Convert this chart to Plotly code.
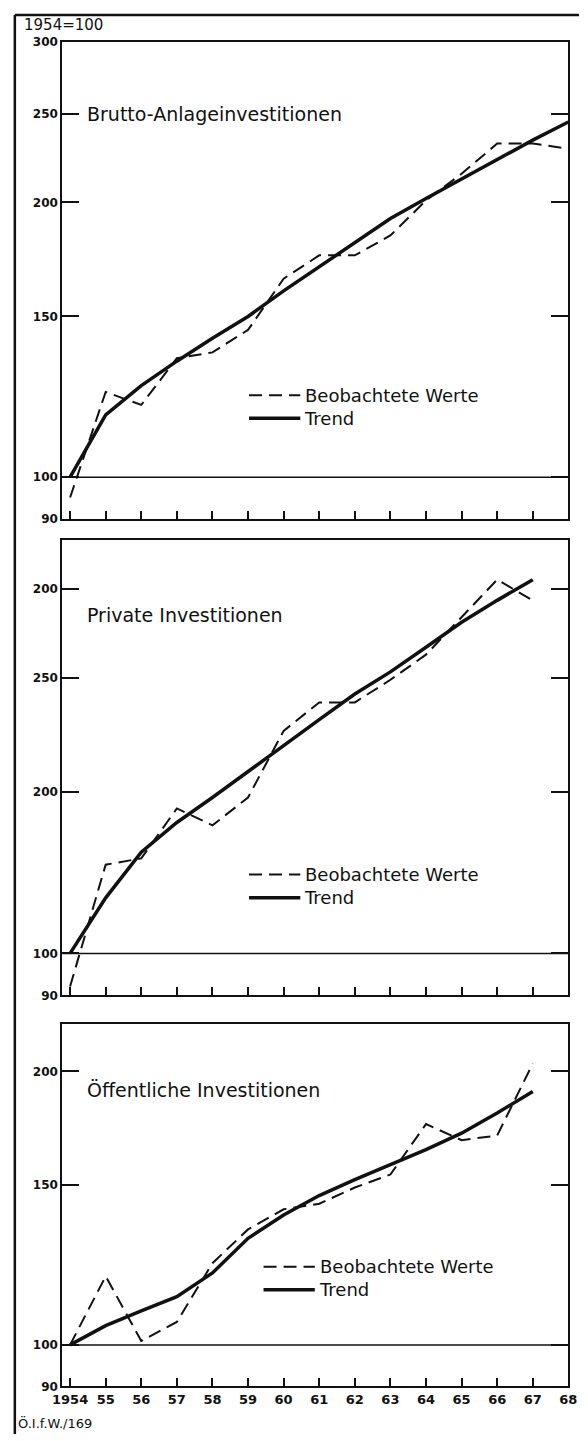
import math
import plotly.graph_objects as go

# ---------------- data (index 1954 = 100) ----------------
years_b = [1954, 1955, 1956, 1957, 1958, 1959, 1960, 1961, 1962, 1963, 1964, 1965, 1966, 1967, 1968]
brutto_obs = [95, 124, 120, 135, 137, 145, 165, 175, 175, 184, 201, 215, 232, 232, 229]
brutto_trend = [100, 117, 126, 134, 142, 150, 160, 170, 181, 192, 202, 212, 223, 234, 245]

years_pp = [1954, 1955, 1956, 1957, 1958, 1959, 1960, 1961, 1962, 1963, 1964, 1965, 1966, 1967]
private_obs = [92, 125, 127, 144, 138, 148, 175, 188, 188, 199, 212, 233, 256, 243]
private_trend = [100, 115, 129, 139, 148, 158, 169, 180, 192, 203, 216, 230, 243, 256]

public_obs = [100, 119, 101, 106, 123, 134, 141, 143, 149, 154, 175, 168, 170, 204]
public_trend = [100, 105, 109, 113, 120, 131, 139, 146, 152, 158, 164, 171, 180, 190]

x_tickvals = [1954, 1955, 1956, 1957, 1958, 1959, 1960, 1961, 1962, 1963, 1964, 1965, 1966, 1967, 1968]
x_ticktext = ["1954", "55", "56", "57", "58", "59", "60", "61", "62", "63", "64", "65", "66", "67", "68"]

y1_vals = [90, 100, 150, 200, 250, 300]
y1_text = ["90", "100", "150", "200", "250", "300"]
y2_vals = [90, 100, 150, 200, 250]
y2_text = ["90", "100", "200", "250", "200"]
y3_vals = [90, 100, 150, 200]
y3_text = ["90", "100", "150", "200"]

titles = ["Brutto-Anlageinvestitionen", "Private Investitionen", "Öffentliche Investitionen"]
title_levels = [250, 234, 191]
obs_name = "Beobachtete Werte"
trend_name = "Trend"

# ---------------- layout geometry ----------------
W, H = 588, 1441


def py(p):
    return 1 - p / H


X0, X1 = 54 / W, 577 / W
panels = [
    dict(dom=[py(517), py(35)], rng=[90, 300], vals=y1_vals, text=y1_text),
    dict(dom=[py(998), py(538)], rng=[90, 283], vals=y2_vals, text=y2_text),
    dict(dom=[py(1393), py(1027)], rng=[90, 225.5], vals=y3_vals, text=y3_text),
]

FONT = "DejaVu Sans"
BLACK = "#111111"
DASH = "13px,7px"

fig = go.Figure()

series = [
    (years_b, brutto_obs, brutto_trend),
    (years_pp, private_obs, private_trend),
    (years_pp, public_obs, public_trend),
]

for i, (yrs, obs, trend) in enumerate(series):
    xa = "x" if i == 0 else f"x{i+1}"
    ya = "y" if i == 0 else f"y{i+1}"
    fig.add_trace(go.Scatter(
        x=yrs, y=obs, mode="lines", name=obs_name,
        line=dict(color=BLACK, width=2, dash=DASH),
        xaxis=xa, yaxis=ya, showlegend=False))
    fig.add_trace(go.Scatter(
        x=yrs, y=trend, mode="lines", name=trend_name,
        line=dict(color=BLACK, width=3.5),
        xaxis=xa, yaxis=ya, showlegend=False))

layout = dict(
    width=W, height=H,
    margin=dict(l=0, r=0, t=0, b=0),
    paper_bgcolor="white", plot_bgcolor="white",
    font=dict(family=FONT, color=BLACK),
    showlegend=False,
)

for i, p in enumerate(panels):
    xk = "xaxis" if i == 0 else f"xaxis{i+1}"
    yk = "yaxis" if i == 0 else f"yaxis{i+1}"
    ya = "y" if i == 0 else f"y{i+1}"
    layout[xk] = dict(
        domain=[X0, X1], anchor=ya, range=[1953.78, 1968],
        showgrid=False, zeroline=False,
        showline=True, linecolor=BLACK, linewidth=2, mirror=True,
        ticks="inside", ticklen=8, tickwidth=1.5, tickcolor=BLACK,
        tickvals=x_tickvals, ticktext=x_ticktext,
        showticklabels=(i == 2),
        tickfont=dict(size=13, family=FONT, weight="bold"),
    )
    layout[yk] = dict(
        domain=p["dom"], anchor="x" if i == 0 else f"x{i+1}",
        type="log", range=[math.log10(p["rng"][0]), math.log10(p["rng"][1])],
        showgrid=False, zeroline=False,
        showline=True, linecolor=BLACK, linewidth=2, mirror="ticks",
        ticks="inside", ticklen=17, tickwidth=1.5, tickcolor=BLACK,
        tickvals=p["vals"], ticktext=p["text"],
        tickfont=dict(size=12, family=FONT, weight="bold"),
    )

fig.update_layout(**layout)

# reference line at 100 in each panel
for i in range(3):
    xr = "x domain" if i == 0 else f"x{i+1} domain"
    yr = "y" if i == 0 else f"y{i+1}"
    fig.add_shape(type="line", xref=xr, yref=yr, x0=0, x1=1, y0=100, y1=100,
                  line=dict(color=BLACK, width=1.5))

# panel titles (log axes -> annotation y in log10 units)
for i, t in enumerate(titles):
    yr = "y" if i == 0 else f"y{i+1}"
    fig.add_annotation(text=t, xref="paper", yref=yr, x=78 / W, y=math.log10(title_levels[i]),
                       xanchor="left", yanchor="middle", showarrow=False,
                       font=dict(size=19, family=FONT, color=BLACK))

# per-panel keys: sample start x, sample end x, first line y (pixels)
KEY_FS = 18
LINE_H = 1.3 * KEY_FS
keys = [(247, 300, 392), (247, 300, 876), (262, 315, 1272)]
for (sx0, sx1, ky) in keys:
    for j, (dash, lw) in enumerate([(DASH, 2), ("solid", 3.5)]):
        yy = ky + j * LINE_H
        fig.add_shape(type="line", xref="paper", yref="paper",
                      x0=sx0 / W, x1=sx1 / W, y0=py(yy), y1=py(yy),
                      line=dict(color=BLACK, width=lw, dash=dash))
    fig.add_annotation(text=obs_name + "<br>" + trend_name, xref="paper", yref="paper",
                       x=(sx1 + 2) / W, y=py(ky + LINE_H / 2), align="left",
                       xanchor="left", yanchor="middle", showarrow=False,
                       font=dict(size=KEY_FS, family=FONT, color=BLACK))

# header / footer text
fig.add_annotation(text="1954=100", xref="paper", yref="paper", x=12 / W, y=py(18),
                   xanchor="left", yanchor="middle", showarrow=False,
                   font=dict(size=15, family=FONT, color=BLACK))
fig.add_annotation(text="Ö.I.f.W./169", xref="paper", yref="paper", x=6 / W, y=py(1430),
                   xanchor="left", yanchor="middle", showarrow=False,
                   font=dict(size=13, family=FONT, color=BLACK))

# outer frame (left and top)
fig.add_shape(type="line", xref="paper", yref="paper", x0=5 / W, x1=5 / W, y0=0, y1=py(8),
              line=dict(color=BLACK, width=2.5))
fig.add_shape(type="line", xref="paper", yref="paper", x0=5 / W, x1=1, y0=py(8), y1=py(8),
              line=dict(color=BLACK, width=2.5))

fig.write_html("out.html",
               config={"displayModeBar": False},
               post_script="document.body.style.margin='0';document.body.style.overflow='hidden';")
